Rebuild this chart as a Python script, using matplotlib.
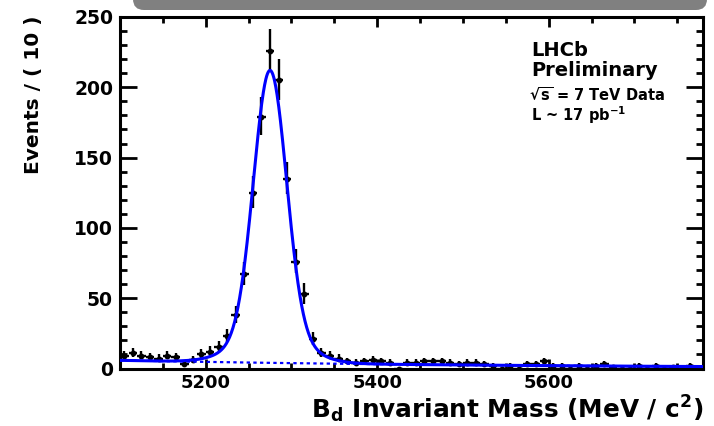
import numpy as np
import matplotlib
matplotlib.use("Agg")
import matplotlib.pyplot as plt
from matplotlib.patches import FancyBboxPatch
from matplotlib.transforms import IdentityTransform
from matplotlib.ticker import MultipleLocator

plt.rcParams['font.family'] = ['DejaVu Sans']
plt.rcParams['font.weight'] = 'bold'
plt.rcParams['mathtext.fontset'] = 'dejavusans'
plt.rcParams['mathtext.default'] = 'bf'

# ---- data: B_d invariant mass histogram, 10 MeV bins ----
bin_centers = [5105, 5115, 5125, 5135, 5145, 5155, 5165, 5175, 5185, 5195,
               5205, 5215, 5225, 5235, 5245, 5255, 5265, 5275, 5285, 5295,
               5305, 5315, 5325, 5335, 5345, 5355, 5365, 5375, 5385, 5395,
               5405, 5415, 5425, 5435, 5445, 5455, 5465, 5475, 5485, 5495,
               5505, 5515, 5525, 5535, 5545, 5555, 5565, 5575, 5585, 5595,
               5605, 5615, 5625, 5635, 5645, 5655, 5665, 5675, 5685, 5695,
               5705, 5715, 5725, 5735, 5745, 5755, 5765, 5775]
events = [9, 11, 9, 8, 7, 9, 8, 3, 6, 10,
          12, 15, 23, 38, 67, 125, 179, 226, 205, 135,
          76, 53, 21, 11, 9, 7, 5, 4, 5, 6,
          5, 4, 0, 4, 4, 5, 5, 5, 4, 3,
          4, 4, 3, 2, 0, 2, 0, 3, 3, 5,
          2, 2, 0, 2, 0, 2, 3, 1, 0, 0,
          2, 0, 2, 0, 1, 0, 2, 0]
bin_half_width = 5

# fit model parameters
sig_mean = 5275.0
sig_core_amp = 188.0
sig_core_sigma = 19.0
sig_wide_amp = 20.0
sig_wide_sigma = 38.0
bkg_amp = 5.8
bkg_slope = 0.0021
x_min, x_max = 5100, 5780

# ---- figure ----
fig = plt.figure(figsize=(7.14, 4.26), dpi=100)
W, H = 714, 426
ax = fig.add_axes([120 / W, 1 - 368.5 / H, (703 - 120) / W, (368.5 - 17) / H])

# grey banner at the top
fig.patches.append(FancyBboxPatch((133, H - 10), 574, 40,
                                  boxstyle="round,pad=0,rounding_size=11",
                                  transform=IdentityTransform(),
                                  fc='#808080', ec='none', figure=fig))

x = np.asarray(bin_centers, float)
n = np.asarray(events, float)
err_lo = np.where(n > 0, np.sqrt(n + 0.25) - 0.5, 0.0)
err_hi = np.sqrt(n + 0.25) + 0.5
ax.errorbar(x, n, xerr=bin_half_width, yerr=[err_lo, err_hi], fmt='o', ms=3.2,
            color='black', ecolor='black', elinewidth=1.7, capsize=0, zorder=3)

xs = np.linspace(x_min, x_max, 1400)
bkg = bkg_amp * np.exp(-bkg_slope * (xs - x_min))
sig = (sig_core_amp * np.exp(-0.5 * ((xs - sig_mean) / sig_core_sigma) ** 2)
       + sig_wide_amp * np.exp(-0.5 * ((xs - sig_mean) / sig_wide_sigma) ** 2))
ax.plot(xs, bkg, color='#0000ff', lw=1.6, ls=(0, (1.5, 1.5)), zorder=4)
ax.plot(xs, sig + bkg, color='#0000ff', lw=2.2, zorder=5)

ax.set_xlim(x_min, x_max)
ax.set_ylim(0, 250)
ax.xaxis.set_major_locator(MultipleLocator(200))
ax.xaxis.set_minor_locator(MultipleLocator(50))
ax.yaxis.set_major_locator(MultipleLocator(50))
ax.yaxis.set_minor_locator(MultipleLocator(10))
for s in ax.spines.values():
    s.set_linewidth(2.2)
ax.tick_params(which='both', direction='in', top=True, right=True, width=2,
               labelsize=13.5)
ax.tick_params(axis='x', labelsize=13)
ax.tick_params(axis='y', which='major', length=12, pad=5)
ax.tick_params(axis='y', which='minor', length=5)
ax.tick_params(axis='x', which='major', length=7, pad=4)
ax.tick_params(axis='x', which='minor', length=4)
for lab in ax.get_xticklabels() + ax.get_yticklabels():
    lab.set_fontweight('bold')

# axis titles
fig.text(34 / W, 1 - 15 / H, 'Events / ( 10 )', rotation=90, ha='center', va='top',
         fontsize=14.5, fontweight='bold')
fig.text(703 / W, 1 - 418 / H, r'$B_d$ Invariant Mass (MeV / $c^2$)',
         ha='right', va='baseline', fontsize=17.8, fontweight='bold')

# annotations
fig.text(531 / W, 1 - 56 / H, 'LHCb', ha='left', va='baseline', fontsize=14, fontweight='bold')
fig.text(531 / W, 1 - 76 / H, 'Preliminary', ha='left', va='baseline', fontsize=14, fontweight='bold')
fig.text(529 / W, 1 - 101 / H, r'$\sqrt{s}$ = 7 TeV Data', ha='left', va='baseline',
         fontsize=10.5, fontweight='bold')
fig.text(531 / W, 1 - 121 / H, r'L ~ 17 pb$^{-1}$', ha='left', va='baseline',
         fontsize=10.5, fontweight='bold')

fig.savefig('out.png', dpi=100)
